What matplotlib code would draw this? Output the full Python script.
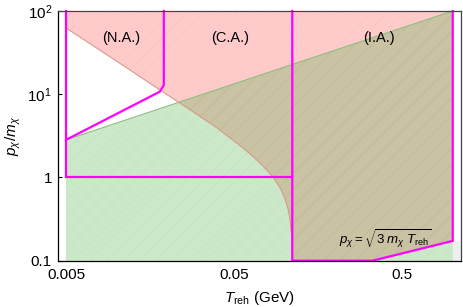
import matplotlib
matplotlib.use("Agg")
import matplotlib.pyplot as plt
from matplotlib.patches import Polygon
import numpy as np

plt.rcParams['font.family'] = ['Liberation Sans', 'DejaVu Sans']
plt.rcParams['mathtext.fontset'] = 'custom'
plt.rcParams['mathtext.rm'] = 'Liberation Sans'
plt.rcParams['mathtext.it'] = 'Liberation Sans:italic'
plt.rcParams['mathtext.bf'] = 'Liberation Sans:bold'
plt.rcParams['hatch.linewidth'] = 0.3

# ---- data ----
x_min, x_max = 0.00445, 1.12
y_min, y_max = 0.1, 100

# lower boundary of the red (pink) region
red_T = [0.005, 0.0120, 0.0181, 0.0233, 0.0280, 0.0320, 0.0395, 0.0480, 0.0567, 0.0660, 0.0746, 0.0857, 0.0940, 0.1007, 0.1050, 0.1076, 0.1100, 0.1111]
red_p = [62.6, 19.6, 11.26, 8.05, 6.30, 5.25, 3.95, 2.92, 2.25, 1.73, 1.36, 1.00, 0.75, 0.55, 0.41, 0.31, 0.20, 0.10]

# upper boundary of the green region
green_T = [0.005, 1.0]
green_p = [2.83, 100]

# p = sqrt(3 m T) line
sqrt_T = [0.333, 1.0]
sqrt_p = [0.1, 0.173]

# magenta region outlines
na_T = [0.005, 0.005, 0.0181, 0.0191, 0.0191]
na_p = [100, 2.83, 10.75, 12.9, 100]
ca_T = [0.005, 0.005, 0.111]
ca_p = [2.83, 1.0, 1.0]
ia_T = [0.111, 0.111, 0.333, 1.0, 1.0]
ia_p = [100, 0.1, 0.1, 0.173, 100]

region_labels = ["(N.A.)", "(C.A.)", "(I.A.)"]
region_label_T = [0.0106, 0.0473, 0.365]
region_label_p = [47.5, 47.5, 47.5]

pink = '#FFCACA'
green = '#CBE8C8'
olive = '#C9C2A3'
grey = '#EFEFEF'
magenta = '#FF00FF'

fig = plt.figure(figsize=(4.63, 3.07), dpi=100)
ax = fig.add_axes([0.1242, 0.1508, 0.8715, 0.8134])
ax.set_xscale('log')
ax.set_yscale('log')
ax.set_xlim(x_min, x_max)
ax.set_ylim(y_min, y_max)

# grey region below sqrt line
grey_poly = list(zip(sqrt_T, sqrt_p)) + [(x_max * 2, sqrt_p[-1]), (x_max * 2, y_min / 2), (sqrt_T[0], y_min / 2)]
ax.add_patch(Polygon(grey_poly, closed=True, facecolor=grey, edgecolor='none', zorder=1))

# green region
g_poly = [(green_T[0], y_min / 2)] + list(zip(green_T, green_p)) + [(green_T[-1], y_min / 2)]
ax.add_patch(Polygon(g_poly, closed=True, facecolor=green, edgecolor='none', zorder=2))

# red region
r_poly = list(zip(red_T, red_p)) + [(red_T[-1], y_min / 2), (sqrt_T[0], y_min / 2)] + list(zip(sqrt_T, sqrt_p)) + [(sqrt_T[-1], y_max * 2), (red_T[0], y_max * 2)]
ax.add_patch(Polygon(r_poly, closed=True, facecolor=pink, edgecolor='none', zorder=2))

# overlap
opatch = Polygon(r_poly, closed=True, facecolor=olive, edgecolor='none', zorder=3)
ax.add_patch(opatch)
clip = Polygon(g_poly, closed=True, transform=ax.transData, facecolor='none', edgecolor='none')
opatch.set_clip_path(clip)

# faint mesh texture inside filled regions
for poly in (g_poly, r_poly):
    hp = Polygon(poly, closed=True, facecolor='none', edgecolor=(0.4, 0.4, 0.3, 0.08), lw=0, hatch='//', zorder=3.5)
    ax.add_patch(hp)

# edges
ax.plot(green_T, green_p, color='#8DBF7E', lw=0.8, zorder=4)
ax.plot(red_T, red_p, color='#D99A88', lw=0.8, zorder=4)

# magenta outlines
for T, p in [(na_T, na_p), (ca_T, ca_p), (ia_T, ia_p)]:
    ax.plot(T, p, color=magenta, lw=1.6, zorder=6, solid_joinstyle='miter', clip_on=False)

for lab, T, p in zip(region_labels, region_label_T, region_label_p):
    ax.text(T, p, lab, ha='center', va='center', fontsize=10.5, zorder=7)

ax.text(0.396, 0.178, r'$p_\chi = \sqrt{3\;m_\chi\;T_{\rm reh}}$', ha='center', va='center', fontsize=9.5, zorder=7)

ax.set_xticks([0.005, 0.05, 0.5])
ax.set_xticklabels(['0.005', '0.05', '0.5'])
ax.set_yticks([0.1, 1, 10, 100])
ax.set_yticklabels(['0.1', '1', r'$10^1$', r'$10^2$'])
ax.minorticks_off()
ax.tick_params(direction='in', length=3, width=0.8, labelsize=11, pad=4, top=False, right=False)
ax.tick_params(axis='x', pad=5)

for s in ax.spines.values():
    s.set_linewidth(0.9)
    s.set_zorder(8)
ax.spines['top'].set_color('#444444')
ax.spines['right'].set_color('#444444')

ax.set_xlabel(r'$T_{\rm reh}$ (GeV)', fontsize=11, labelpad=5)
ax.set_ylabel(r'$p_\chi/m_\chi$', fontsize=11, labelpad=3)

fig.savefig('out.png', dpi=100)
